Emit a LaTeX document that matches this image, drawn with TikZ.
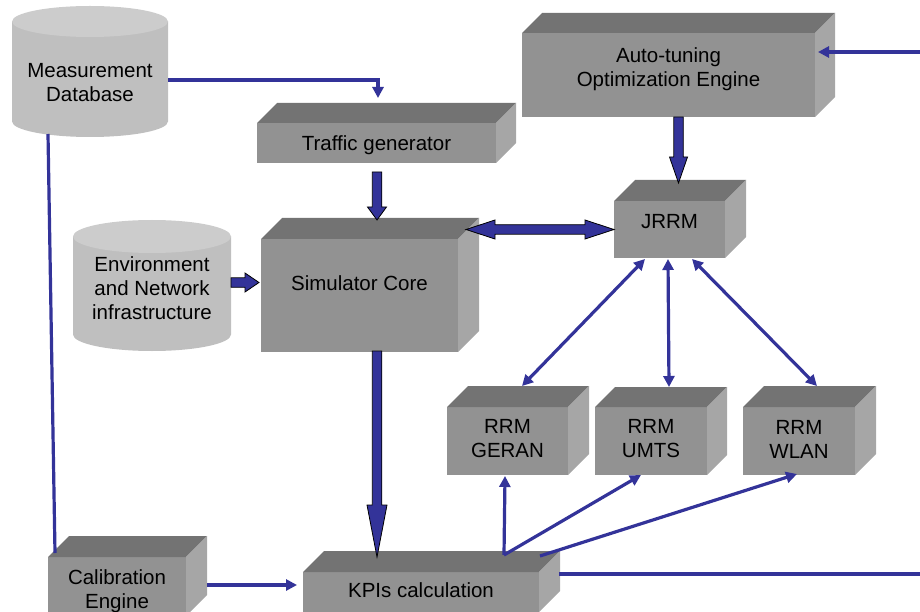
\documentclass[tikz,border=0pt]{standalone}
\usepackage{fontspec}
\setmainfont{Liberation Sans}
\usetikzlibrary{arrows.meta,calc}
\definecolor{blu}{RGB}{51,51,153}
\definecolor{frontc}{RGB}{146,146,146}
\definecolor{topc}{RGB}{115,115,115}
\definecolor{sidec}{RGB}{166,166,166}
\definecolor{cylbodyc}{RGB}{191,191,191}
\definecolor{cyltopc}{RGB}{204,204,204}
\tikzset{
  front/.style={rectangle, fill=frontc, draw=none, inner sep=0pt, outer sep=0pt},
  topface/.style={fill=topc},
  sideface/.style={fill=sidec},
  cylrect/.style={rectangle, draw=none, inner sep=0pt, outer sep=0pt},
  cylbody/.style={fill=cylbodyc},
  cyltop/.style={fill=cyltopc},
  lbl/.style={align=center, inner sep=0pt, font=\fontsize{20.5}{24}\selectfont},
  blk/.style={fill=blu, draw=black, line width=0.8pt, line join=miter},
  tarrow/.style={draw=blu, line width=3.2pt, -{Triangle[length=11pt,width=11pt]}},
  tdouble/.style={draw=blu, line width=3.2pt, {Triangle[length=11pt,width=11pt]}-{Triangle[length=11pt,width=11pt]}},
  tline/.style={draw=blu, line width=3.2pt},
}
% 3D box: name, x1, y1, x2, y2 (front face), depth, text y, text
\newcommand\cubebox[8]{%
  \node[front, minimum width={(#4-#2)*1pt}, minimum height={(#5-#3)*1pt}] (#1) at ({(#2+#4)/2},{(#3+#5)/2}) {};
  \fill[topface] (#1.north west) -- ++(#6,-#6) -- ([shift={(#6,-#6)}]#1.north east) -- (#1.north east) -- cycle;
  \fill[sideface] (#1.north east) -- ++(#6,-#6) -- ([shift={(#6,-#6)}]#1.south east) -- (#1.south east) -- cycle;
  \node[lbl] (#1-t) at ({(#2+#4)/2},#7) {#8};
}
% cylinder: name, cx, rx, ytop, ybot, ry, text y, text
\newcommand\cylbox[8]{%
  \node[cylrect, minimum width={2*#3*1pt}, minimum height={(#5-#4)*1pt}] (#1) at (#2,{(#4+#5)/2}) {};
  \fill[cylbody] (#1.north west) -- (#1.south west) arc[start angle=180, end angle=360, x radius=#3pt, y radius=#6pt] -- (#1.north east) -- cycle;
  \fill[cyltop] (#1.north) ellipse [x radius=#3pt, y radius=#6pt];
  \node[lbl] (#1-t) at (#2,#7) {#8};
}
% block arrows: start, tip, head length, head half width
\newcommand\blockdown[4]{%
  \filldraw[blk] let \p1=#1, \p2=#2 in
  (\x2-4.75pt,\y1) -- (\x2-4.75pt,\y2+#3) -- (\x2-#4,\y2+#3) -- (\x2,\y2) -- (\x2+#4,\y2+#3) -- (\x2+4.75pt,\y2+#3) -- (\x2+4.75pt,\y1) -- cycle;
}
\newcommand\blockright[4]{%
  \filldraw[blk] let \p1=#1, \p2=#2 in
  (\x1,\y2+4.75pt) -- (\x2-#3,\y2+4.75pt) -- (\x2-#3,\y2+#4) -- (\x2,\y2) -- (\x2-#3,\y2-#4) -- (\x2-#3,\y2-4.75pt) -- (\x1,\y2-4.75pt) -- cycle;
}
\newcommand\blockboth[4]{%
  \filldraw[blk] let \p1=#1, \p2=#2 in
  (\x1,\y2) -- (\x1+#3,\y2+#4) -- (\x1+#3,\y2+4.75pt) -- (\x2-#3,\y2+4.75pt) -- (\x2-#3,\y2+#4) -- (\x2,\y2) -- (\x2-#3,\y2-#4) -- (\x2-#3,\y2-4.75pt) -- (\x1+#3,\y2-4.75pt) -- (\x1+#3,\y2-#4) -- cycle;
}
\begin{document}
\begin{tikzpicture}[x=1pt,y=-1pt]
\useasboundingbox (0,0) rectangle (920,612);
\clip (0,0) rectangle (920,612);

% cylinders
\cylbox{mdb}{90}{78}{21.5}{121.5}{15.5}{82.5}{Measurement\\Database}
\cylbox{env}{152}{79}{236.5}{334.5}{16.5}{288}{Environment\\and Network\\infrastructure}

% boxes
\cubebox{ato}{522}{33}{815}{117}{20}{69}{Auto-tuning\\Optimization Engine}
\cubebox{trf}{257}{123}{496}{163}{20}{145}{Traffic generator}
\cubebox{sim}{261}{239}{458}{352}{21}{283.5}{Simulator Core}
\cubebox{jrrm}{614}{201}{725}{258}{21}{221.5}{JRRM}
\cubebox{ger}{447}{407}{568}{475}{21}{439}{RRM\\GERAN}
\cubebox{umts}{595}{407}{707}{475}{20}{439}{RRM\\UMTS}
\cubebox{wlan}{743}{407}{855}{475}{21}{439}{RRM\\WLAN}
\cubebox{kpi}{303}{572}{539}{612}{21}{590.5}{KPIs calculation}
\cubebox{cal}{48}{557}{186}{616}{21}{591}{Calibration\\Engine}

\coordinate (fbin) at (920,52);
\coordinate (fbout) at (920,574);

% block arrows
\blockdown{($(trf.south)+(0,9)$)}{($(sim.north)+(17.5,-19)$)}{13pt}{9.5pt}
\blockdown{($(sim.south)+(17.5,-1)$)}{($(kpi.north)+(-44,-15)$)}{52pt}{10pt}
\blockdown{($(ato.south)+(10,0)$)}{($(jrrm.north)+(9,-18)$)}{26pt}{9pt}
\blockright{($(env.east)+(0,-3)$)}{($(sim.west)+(-2,-13)$)}{14pt}{9.5pt}
\blockboth{($(sim.north east)+(8,-9.5)$)}{(jrrm.west)}{29pt}{9.5pt}

% thin connectors
\draw[tarrow] ($(mdb.east)+(0,8.5)$) -| ($(trf.north)+(1.5,-25)$);
\draw[tline] ($(mdb.south west)+(36,12.5)$) -- ($(cal.north west)+(7,-4)$);
\draw[tarrow] ($(cal.east)+(21,-1.5)$) -- ($(kpi.west)+(-6,-7)$);
\draw[tarrow] (fbin) -- ($(ato.east)+(3,-23)$);
\draw[tline] ($(kpi.north east)+(20,2)$) -- (fbout);

\draw[tdouble] ($(jrrm.south)+(-24.5,1)$) -- ($(ger.north)+(14.5,-21)$);
\draw[tdouble] ($(jrrm.south)+(-1.5,1)$) -- ($(umts.north)+(18,-20)$);
\draw[tdouble] ($(jrrm.south)+(22.5,1)$) -- ($(wlan.north)+(18,-21)$);

\draw[tarrow] ($(kpi.north)+(83,-17)$) -- ($(ger.south)+(-2.5,1)$);
\draw[tarrow] ($(kpi.north)+(83,-17)$) -- ($(umts.south)+(-10,0)$);
\draw[tarrow] ($(kpi.north east)+(1,-16)$) -- ($(wlan.south)+(-2,-1)$);
\end{tikzpicture}
\end{document}
